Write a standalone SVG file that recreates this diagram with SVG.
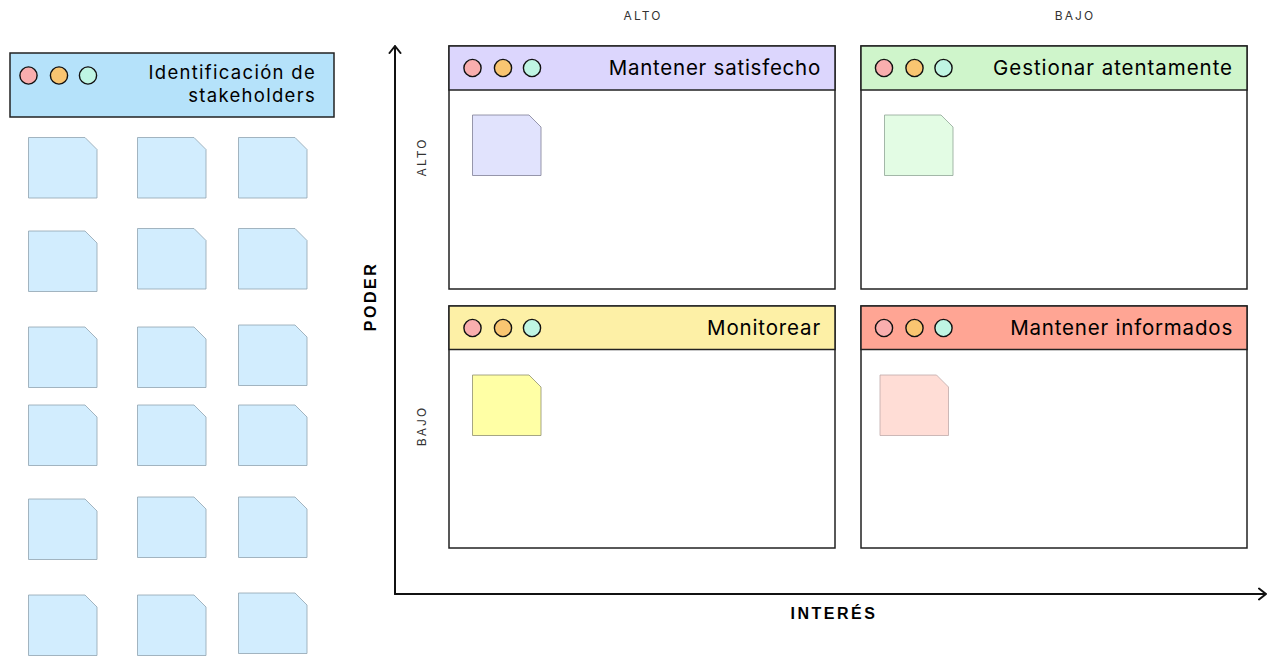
<svg xmlns="http://www.w3.org/2000/svg" width="1277" height="658" viewBox="0 0 1277 658">
<style>
text{font-family:Inter,"Liberation Sans",sans-serif;fill:#000}
.t{font-size:20.5px;letter-spacing:.85px;text-anchor:end}
.t2{font-size:18.5px;letter-spacing:1.300px;text-anchor:end}
.s{font-size:12px;letter-spacing:2.100px;fill:#333;text-anchor:middle}
.b{font-size:16px;font-weight:700;letter-spacing:2.500px;text-anchor:middle;font-family:"Liberation Sans",sans-serif}
.box{fill:#fff;stroke:#222;stroke-width:1.5}
.hd{stroke:#222;stroke-width:1.5}
.d{stroke:#111;stroke-width:1.4}
.r{fill:#f9aeae}.o{fill:#f9c571}.g{fill:#bff5e3}
.lb{fill:#d2edfe;stroke:#8fa3b0;stroke-width:.8}
.nt{stroke-width:.8}
.ax{fill:none;stroke:#111;stroke-width:2;stroke-linecap:round;stroke-linejoin:round}
</style>
<defs>
<path id="note" d="M.5 0H57L69 12V60.500H.5Z"/>
<g id="dots"><circle class="d r" cx="0" cy="0" r="8.600"/><circle class="d o" cx="30.500" cy="0" r="8.600"/><circle class="d g" cx="59.500" cy="0" r="8.600"/></g>
</defs>
<g id="connectors">
<path class="ax" d="M395 594V46M389.500 53L395 46L400.500 53"/>
<path class="ax" d="M395 594H1266M1259 588.500L1266 594L1259 599.500"/>
</g>
<g id="stakeholders">
<rect x="10" y="53" width="324" height="64" fill="#b5e2fa" stroke="#222" stroke-width="1.5"/>
<use href="#dots" x="28.500" y="75.500"/>
<text class="t2" x="316" y="79">Identificación de</text>
<text class="t2" x="316" y="101.500">stakeholders</text>
</g>
<g id="stakeholder-notes">
<use href="#note" class="lb" x="28" y="137.500"/><use href="#note" class="lb" x="137" y="137.500"/><use href="#note" class="lb" x="238" y="137.500"/>
<use href="#note" class="lb" x="28" y="231"/><use href="#note" class="lb" x="137" y="228.500"/><use href="#note" class="lb" x="238" y="228.500"/>
<use href="#note" class="lb" x="28" y="327"/><use href="#note" class="lb" x="137" y="327"/><use href="#note" class="lb" x="238" y="325"/>
<use href="#note" class="lb" x="28" y="405"/><use href="#note" class="lb" x="137" y="405"/><use href="#note" class="lb" x="238" y="405"/>
<use href="#note" class="lb" x="28" y="499"/><use href="#note" class="lb" x="137" y="497"/><use href="#note" class="lb" x="238" y="497"/>
<use href="#note" class="lb" x="28" y="595"/><use href="#note" class="lb" x="137" y="595"/><use href="#note" class="lb" x="238" y="593"/>
</g>
<g id="q-satisfecho">
<rect class="box" x="449" y="46" width="386" height="243"/>
<rect class="hd" x="449" y="46" width="386" height="44" fill="#dcd6fd"/>
<use href="#dots" x="472.500" y="68"/>
<text class="t" x="821" y="75" style="letter-spacing:.75px">Mantener satisfecho</text>
<use href="#note" class="nt" x="472" y="115" fill="#e1e3fd" stroke="#7f7f95"/>
</g>
<g id="q-atentamente">
<rect class="box" x="861" y="46" width="386" height="243"/>
<rect class="hd" x="861" y="46" width="386" height="44" fill="#cff5cb"/>
<use href="#dots" x="884" y="68"/>
<text class="t" x="1233" y="75" style="letter-spacing:.95px">Gestionar atentamente</text>
<use href="#note" class="nt" x="884" y="115" fill="#e3fce4" stroke="#8fa595"/>
</g>
<g id="q-monitorear">
<rect class="box" x="449" y="306" width="386" height="242"/>
<rect class="hd" x="449" y="306" width="386" height="43.500" fill="#fdf0a6"/>
<use href="#dots" x="472.500" y="328"/>
<text class="t" x="821" y="335">Monitorear</text>
<use href="#note" class="nt" x="472" y="375" fill="#ffffa5" stroke="#8f8f70"/>
</g>
<g id="q-informados">
<rect class="box" x="861" y="306" width="386" height="242"/>
<rect class="hd" x="861" y="306" width="386" height="43.500" fill="#ffa594"/>
<use href="#dots" x="884" y="328"/>
<text class="t" x="1233" y="335" style="letter-spacing:.8px">Mantener informados</text>
<use href="#note" class="nt" x="879.500" y="375" fill="#ffddd6" stroke="#bfa9a9"/>
</g>
<g id="axis-labels">
<text class="s" x="643" y="20">ALTO</text>
<text class="s" x="1075" y="20">BAJO</text>
<text class="s" transform="translate(426 157) rotate(-90)">ALTO</text>
<text class="s" transform="translate(426 426) rotate(-90)">BAJO</text>
<text class="b" transform="translate(375.500 296.500) rotate(-90)">PODER</text>
<text class="b" x="834" y="619">INTERÉS</text>
</g>
</svg>
